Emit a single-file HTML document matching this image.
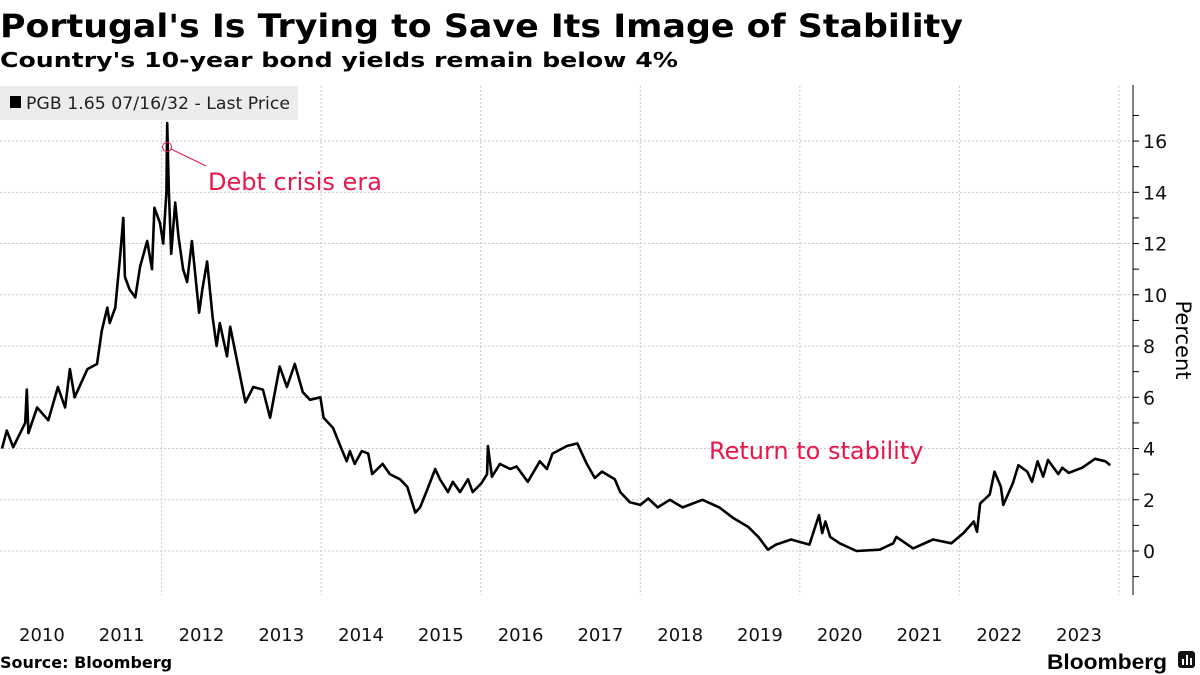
<!DOCTYPE html>
<html><head><meta charset="utf-8"><style>
html,body{margin:0;padding:0;background:#fff;width:1200px;height:675px;overflow:hidden}
svg{display:block;font-family:"DejaVu Sans","Liberation Sans",sans-serif}
</style></head><body>
<svg id="chart" width="1200" height="675" viewBox="0 0 1200 675">
<text x="0" y="37" font-size="32" font-weight="bold" textLength="963" lengthAdjust="spacingAndGlyphs">Portugal's Is Trying to Save Its Image of Stability</text>
<text x="0" y="67" font-size="20.5" font-weight="bold" textLength="678" lengthAdjust="spacingAndGlyphs">Country's 10-year bond yields remain below 4%</text>
<g id="grid"></g>
<g id="xaxis"></g>
<g id="yaxis"></g>
<path id="line" fill="none" stroke="#000" stroke-width="2.6" stroke-linejoin="round"/>
<g>
<rect x="0" y="86" width="298" height="34" fill="#ececec"/>
<rect x="10" y="96" width="11" height="12" fill="#000"/>
<text x="26" y="109" font-size="16.5" fill="#222" textLength="264" lengthAdjust="spacingAndGlyphs">PGB 1.65 07/16/32 - Last Price</text>
</g>
<g>
<circle cx="167" cy="147" r="4.5" fill="none" stroke="#e8174a" stroke-width="1"/>
<line x1="171" y1="149" x2="206" y2="166" stroke="#e8174a" stroke-width="1"/>
<text x="208" y="190" font-size="24" fill="#e8174a">Debt crisis era</text>
</g>
<text x="709" y="459" font-size="24" fill="#e8174a">Return to stability</text>
<text transform="translate(1176,340) rotate(90)" font-size="21" text-anchor="middle">Percent</text>
<text x="0" y="668" font-size="16" font-weight="bold">Source: Bloomberg</text>
<text x="1047" y="669" font-size="21" font-weight="bold" textLength="120" lengthAdjust="spacingAndGlyphs" font-family="Liberation Sans,sans-serif">Bloomberg</text>
<g>
<rect x="1178" y="651" width="17" height="17" rx="3" fill="#111"/>
<rect x="1182" y="659" width="2" height="6" fill="#fff"/><rect x="1186" y="655" width="2" height="10" fill="#fff"/><rect x="1190" y="658" width="2" height="7" fill="#fff"/>
</g>
</svg>
<script>
const dates=[2010.0,2010.06,2010.14,2010.29,2010.31,2010.33,2010.44,2010.58,2010.70,2010.79,2010.85,2010.91,2011.07,2011.19,2011.25,2011.32,2011.35,2011.42,2011.48,2011.52,2011.54,2011.60,2011.67,2011.73,2011.82,2011.88,2011.91,2011.98,2012.02,2012.06,2012.07,2012.09,2012.12,2012.17,2012.21,2012.27,2012.32,2012.38,2012.47,2012.51,2012.57,2012.64,2012.69,2012.73,2012.82,2012.86,2012.96,2013.05,2013.15,2013.27,2013.36,2013.48,2013.57,2013.67,2013.77,2013.86,2013.99,2014.03,2014.15,2014.24,2014.32,2014.36,2014.42,2014.51,2014.59,2014.64,2014.77,2014.86,2014.99,2015.08,2015.18,2015.24,2015.33,2015.43,2015.49,2015.59,2015.65,2015.74,2015.84,2015.90,2016.01,2016.08,2016.09,2016.14,2016.24,2016.37,2016.45,2016.59,2016.74,2016.83,2016.90,2017.08,2017.21,2017.33,2017.43,2017.52,2017.68,2017.75,2017.87,2018.00,2018.10,2018.22,2018.37,2018.53,2018.78,2018.99,2019.16,2019.35,2019.48,2019.60,2019.70,2019.89,2020.12,2020.24,2020.28,2020.32,2020.38,2020.50,2020.71,2021.0,2021.17,2021.21,2021.42,2021.67,2021.90,2022.05,2022.18,2022.22,2022.26,2022.38,2022.44,2022.52,2022.55,2022.67,2022.74,2022.85,2022.91,2022.98,2023.05,2023.11,2023.24,2023.29,2023.37,2023.54,2023.70,2023.83,2023.89,2023.93];
const yields=[4.0,4.7,4.05,5.0,6.3,4.6,5.6,5.1,6.4,5.6,7.1,6.0,7.1,7.3,8.6,9.5,8.9,9.5,11.5,13.0,10.7,10.2,9.9,11.1,12.1,11.0,13.4,12.8,12.0,14.0,16.7,14.1,11.6,13.6,12.3,11.0,10.5,12.1,9.3,10.2,11.3,9.1,8.0,8.9,7.6,8.75,7.2,5.8,6.4,6.3,5.2,7.2,6.4,7.3,6.2,5.9,6.0,5.2,4.8,4.1,3.5,3.9,3.4,3.9,3.8,3.0,3.4,3.0,2.8,2.5,1.5,1.7,2.4,3.2,2.8,2.3,2.7,2.3,2.8,2.3,2.65,3.0,4.1,2.9,3.4,3.2,3.3,2.7,3.5,3.2,3.8,4.1,4.2,3.4,2.85,3.1,2.8,2.3,1.9,1.8,2.05,1.7,2.0,1.7,2.0,1.7,1.3,0.95,0.55,0.05,0.25,0.45,0.25,1.4,0.7,1.15,0.55,0.3,0.0,0.05,0.3,0.55,0.1,0.45,0.3,0.7,1.15,0.75,1.85,2.2,3.1,2.5,1.8,2.65,3.35,3.1,2.7,3.5,2.9,3.55,3.0,3.25,3.05,3.25,3.6,3.5,3.35];
const yTicks=[0,2,4,6,8,10,12,14,16];
const yearLabels=[2010,2011,2012,2013,2014,2015,2016,2017,2018,2019,2020,2021,2022,2023];
const xGridYears=[2012,2014,2016,2018,2020,2022,2024];
const NS='http://www.w3.org/2000/svg';
const X=t=>161.6+(t-2012)*79.78;
const Y=v=>551-v*25.62;
const grid=document.getElementById('grid'),xa=document.getElementById('xaxis'),ya=document.getElementById('yaxis');
function mk(tag,attrs,parent){const e=document.createElementNS(NS,tag);for(const k in attrs)e.setAttribute(k,attrs[k]);parent.appendChild(e);return e;}
yTicks.forEach(v=>{
  const g=mk('line',{x1:0,x2:1133,y1:Y(v),y2:Y(v),stroke:'#c8c8c8','stroke-dasharray':'2,2','stroke-width':1},grid);
  
  
  const t=mk('text',{x:1143,y:Y(v)+7,'font-size':19,fill:'#111'},ya);
  
  
  t.textContent=v;
});
for(let v=-1;v<=17;v++){
  const tk=mk('line',{x1:1133,x2:1139,y1:Y(v),y2:Y(v),stroke:'#000','stroke-width':1},ya);
  
  
}
const ax=mk('line',{x1:1133,x2:1133,y1:85,y2:595,stroke:'#000','stroke-width':1},ya);


xGridYears.forEach(yr=>{
  const g=mk('line',{x1:X(yr),x2:X(yr),y1:86,y2:595,stroke:'#c8c8c8','stroke-dasharray':'2,2','stroke-width':1},grid);
  
  
});
yearLabels.forEach(yr=>{
  const t=mk('text',{x:X(yr+0.5),y:641,'font-size':18,'text-anchor':'middle',fill:'#111'},xa);
  
  
  t.textContent=yr;
});
document.getElementById('line').setAttribute('d',dates.map((t,i)=>(i?'L':'M')+X(t).toFixed(1)+','+Y(yields[i]).toFixed(1)).join(''));
</script>
</body></html>
